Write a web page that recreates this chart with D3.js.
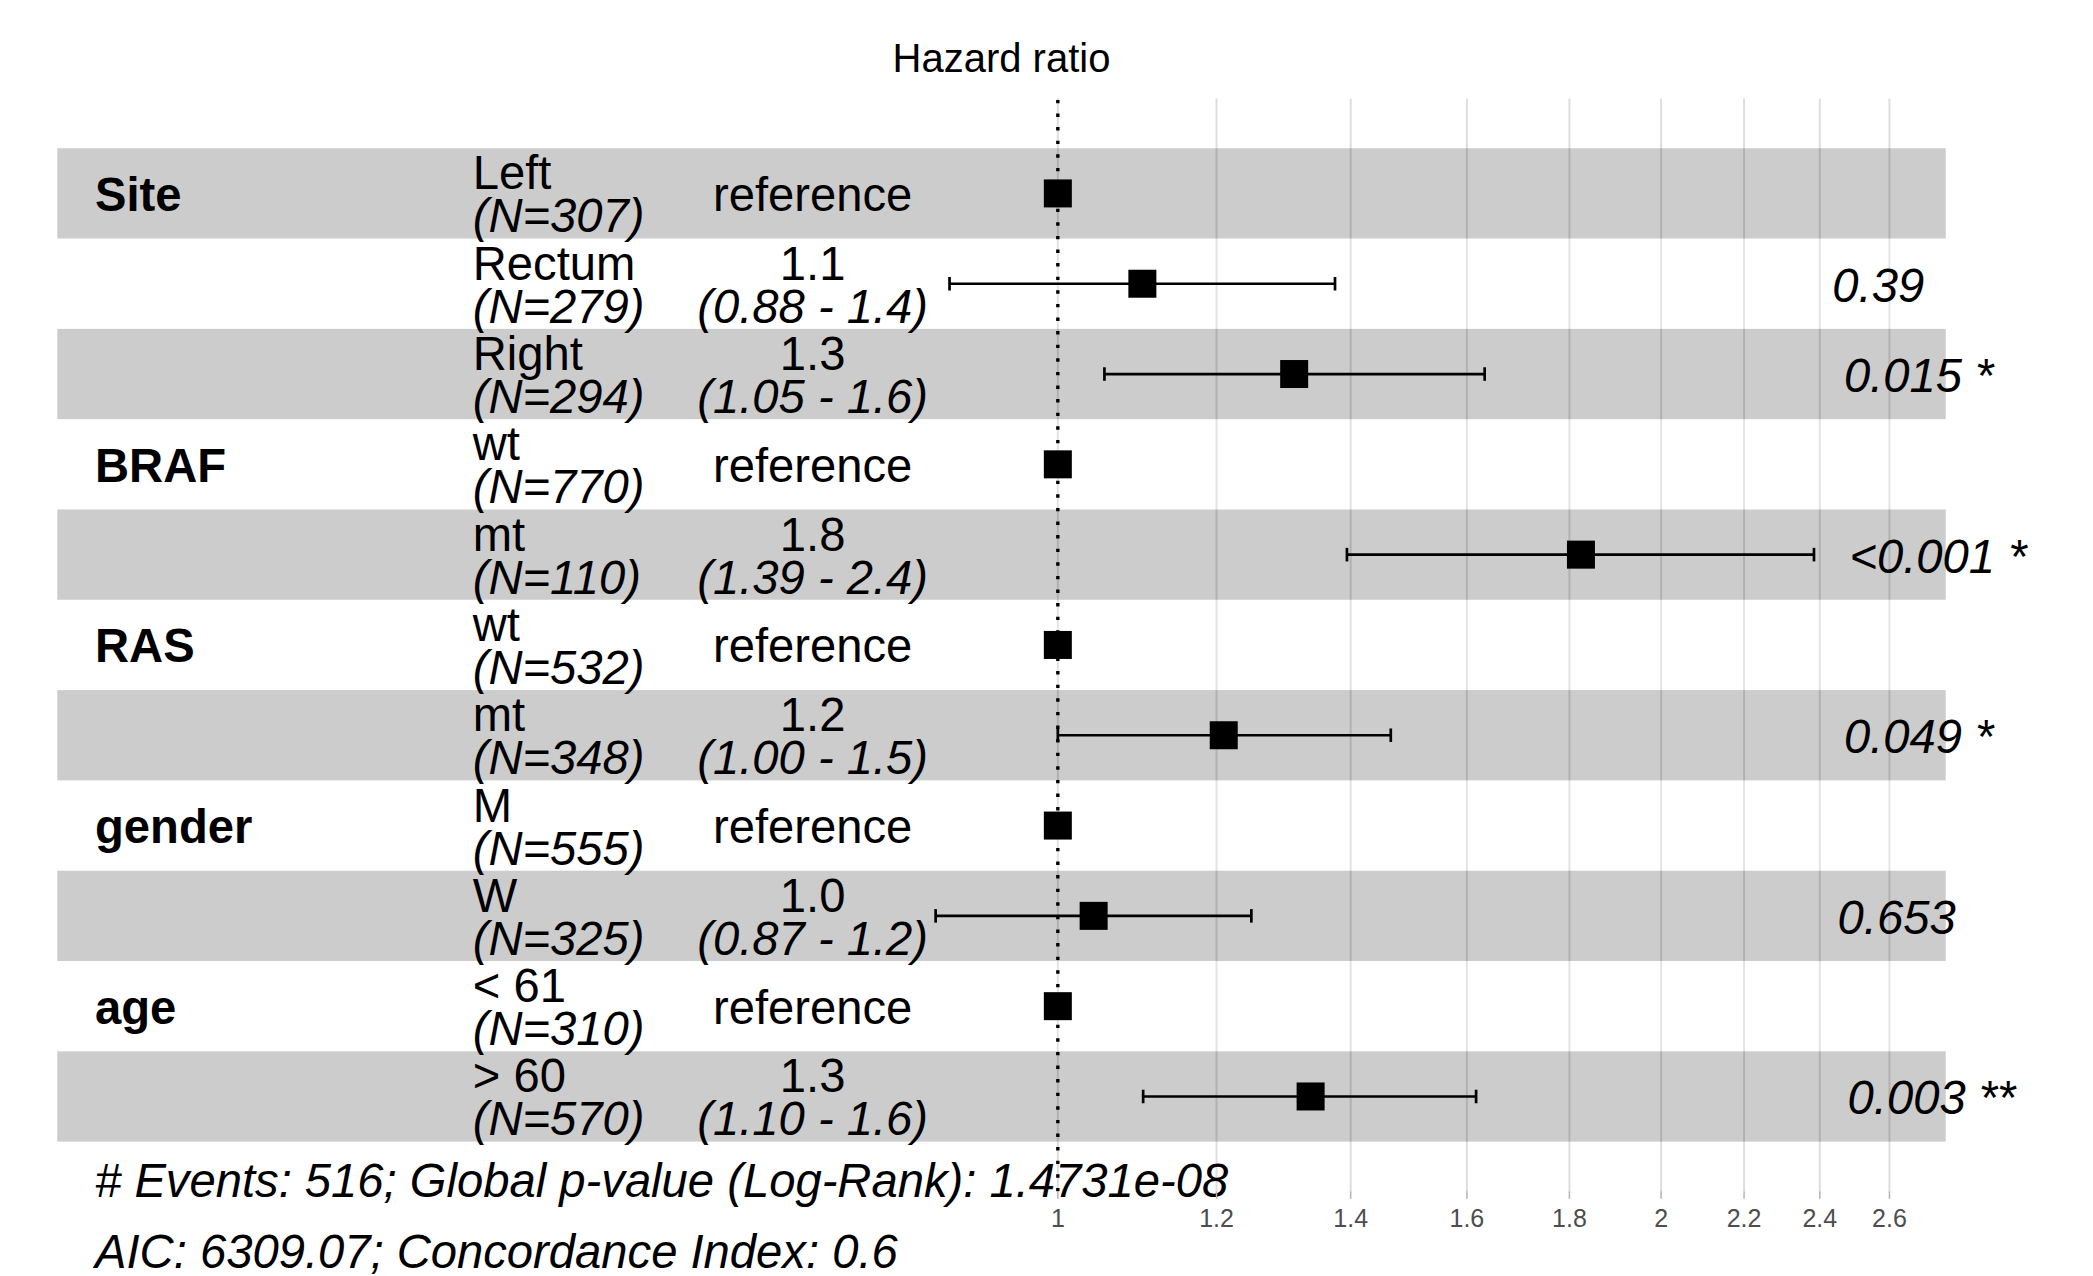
<!DOCTYPE html>
<html>
<head>
<meta charset="utf-8">
<script src="https://cdn.jsdelivr.net/npm/d3@7"></script>
<style>
  body { margin: 0; background: #fff; }
  svg text { font-family: "Liberation Sans", Arial, Helvetica, sans-serif; }
</style>
</head>
<body>
<div id="chart"></div>
<script>
// rows from top to bottom
const variables = ["Site", "", "", "BRAF", "", "RAS", "", "gender", "", "age", ""];
const levels = ["Left", "Rectum", "Right", "wt", "mt", "wt", "mt", "M", "W", "< 61", "> 60"];
const nCounts = [307, 279, 294, 770, 110, 532, 348, 555, 325, 310, 570];
const estimates = [1, 1.102, 1.312, 1, 1.824, 1, 1.21, 1, 1.042, 1, 1.337];
const confLow = [null, 0.883, 1.055, null, 1.394, null, 1.0, null, 0.869, null, 1.103];
const confHigh = [null, 1.375, 1.633, null, 2.384, null, 1.466, null, 1.249, null, 1.617];
const estLabels = ["reference", "1.1", "1.3", "reference", "1.8", "reference", "1.2", "reference", "1.0", "reference", "1.3"];
const ciLabels = ["", "(0.88 - 1.4)", "(1.05 - 1.6)", "", "(1.39 - 2.4)", "", "(1.00 - 1.5)", "", "(0.87 - 1.2)", "", "(1.10 - 1.6)"];
const pLabels = ["", "0.39", "0.015 *", "", "<0.001 *", "", "0.049 *", "", "0.653", "", "0.003 **"];
const breaks = [1, 1.2, 1.4, 1.6, 1.8, 2, 2.2, 2.4, 2.6];
const footLines = [
  "# Events: 516; Global p-value (Log-Rank): 1.4731e-08 ",
  "AIC: 6309.07; Concordance Index: 0.6"
];

const W = 2093, H = 1276;
const fs = 47.2;
const n = levels.length;

const svg = d3.select("#chart").append("svg")
  .attr("width", W).attr("height", H);
svg.append("rect").attr("width", W).attr("height", H).attr("fill", "#fff");

// ranges as in ggforest (log scale)
const lo = d3.min(confLow.filter(d => d != null), d => Math.log(d));
const hi = d3.max(confHigh.filter(d => d != null), d => Math.log(d));
const rangeb = [lo, hi];
const rp = [lo - (hi - lo), hi + 0.15 * (hi - lo)];
const wdt = rp[1] - rp[0];

const x = d3.scaleLog()
  .domain([Math.exp(rp[0] - 0.02 * wdt), Math.exp(rp[1] + 0.02 * wdt)])
  .range([19.5, 1983.5]);

// row index 0 at top; ggplot position = n - i
const y = d3.scaleLinear().domain([-0.05, n + 1.05]).range([1191.3, 98.6]);
const rowH = y(0) - y(1);
const cy = i => y(n - i);

const panelTop = y(n + 1.05), panelBot = y(-0.05);

// grid lines
svg.append("g").selectAll("line").data(breaks).enter().append("line")
  .attr("x1", d => x(d)).attr("x2", d => x(d))
  .attr("y1", panelTop).attr("y2", panelBot)
  .attr("stroke", "#DEDEDE").attr("stroke-width", 2);

// bands
svg.append("g").selectAll("rect").data(levels).enter().append("rect")
  .attr("x", x(Math.exp(rp[0])))
  .attr("width", x(Math.exp(rp[1])) - x(Math.exp(rp[0])))
  .attr("y", (d, i) => cy(i) - rowH / 2)
  .attr("height", rowH)
  .attr("fill", (d, i) => i % 2 === 0 ? "rgba(0,0,0,0.2)" : "rgba(255,255,255,0.2)");

// points
const sq = 28;
svg.append("g").selectAll("rect").data(estimates).enter().append("rect")
  .attr("x", d => x(d) - sq / 2)
  .attr("y", (d, i) => cy(i) - sq / 2)
  .attr("width", sq).attr("height", sq)
  .attr("fill", "#000");

// error bars
const cap = 0.15 * rowH / 2;
const eb = svg.append("g").attr("stroke", "#000").attr("stroke-width", 2.7).attr("fill", "none");
estimates.forEach((d, i) => {
  if (confLow[i] == null) return;
  const c = cy(i), a = x(confLow[i]), b = x(confHigh[i]);
  eb.append("line").attr("x1", a).attr("x2", b).attr("y1", c).attr("y2", c);
  eb.append("line").attr("x1", a).attr("x2", a).attr("y1", c - cap).attr("y2", c + cap);
  eb.append("line").attr("x1", b).attr("x2", b).attr("y1", c - cap).attr("y2", c + cap);
});

// reference line
svg.append("line")
  .attr("x1", x(1)).attr("x2", x(1))
  .attr("y1", panelBot).attr("y2", panelTop)
  .attr("stroke", "#000").attr("stroke-width", 3.4)
  .attr("stroke-dasharray", "3.4 10.2");

// annotations
const xVar = x(Math.exp(rp[0] + 0.02 * wdt));
const xLev = x(Math.exp(rp[0] + 0.22 * wdt));
const xCi = x(Math.exp(rp[0] + 0.40 * wdt));
const xStar = x(Math.exp(rangeb[1]));

const ann = svg.append("g").attr("font-size", fs).attr("fill", "#000");
levels.forEach((lev, i) => {
  const c = cy(i);
  if (variables[i]) {
    ann.append("text").attr("x", xVar).attr("y", c + 17.5)
      .attr("font-weight", "bold").text(variables[i]);
  }
  ann.append("text").attr("x", xLev).attr("y", c - 4).text(lev);
  ann.append("text").attr("x", xLev).attr("y", c + 39)
    .attr("font-style", "italic").text("(N=" + nCounts[i] + ")");
  if (estLabels[i] === "reference") {
    ann.append("text").attr("x", xCi).attr("y", c + 17.5)
      .attr("text-anchor", "middle").text("reference");
  } else {
    ann.append("text").attr("x", xCi).attr("y", c - 4)
      .attr("text-anchor", "middle").text(estLabels[i]);
    ann.append("text").attr("x", xCi).attr("y", c + 39)
      .attr("text-anchor", "middle").attr("font-style", "italic").text(ciLabels[i]);
  }
  if (pLabels[i]) {
    const t = ann.append("text").attr("y", c + 18)
      .attr("font-style", "italic").attr("xml:space", "preserve").text(pLabels[i]);
    const tw = t.node().getComputedTextLength();
    t.attr("x", xStar + 0.2 * tw);
  }
});

// footnote
footLines.forEach((s, k) => {
  ann.append("text").attr("x", xVar).attr("y", 1197 + k * 71)
    .attr("font-style", "italic").text(s);
});

// x axis
const axis = svg.append("g");
axis.selectAll("line").data(breaks).enter().append("line")
  .attr("x1", d => x(d)).attr("x2", d => x(d))
  .attr("y1", panelBot).attr("y2", panelBot + 7.5)
  .attr("stroke", "#B3B3B3").attr("stroke-width", 1.5);
axis.selectAll("text").data(breaks).enter().append("text")
  .attr("x", d => x(d)).attr("y", 1226.7)
  .attr("text-anchor", "middle").attr("font-size", 25).attr("fill", "#4D4D4D")
  .text(d => d3.format("")(d));

// title
svg.append("text")
  .attr("x", (x.range()[0] + x.range()[1]) / 2).attr("y", 71.7)
  .attr("text-anchor", "middle").attr("font-size", 40).attr("fill", "#000")
  .text("Hazard ratio");
</script>
</body>
</html>
